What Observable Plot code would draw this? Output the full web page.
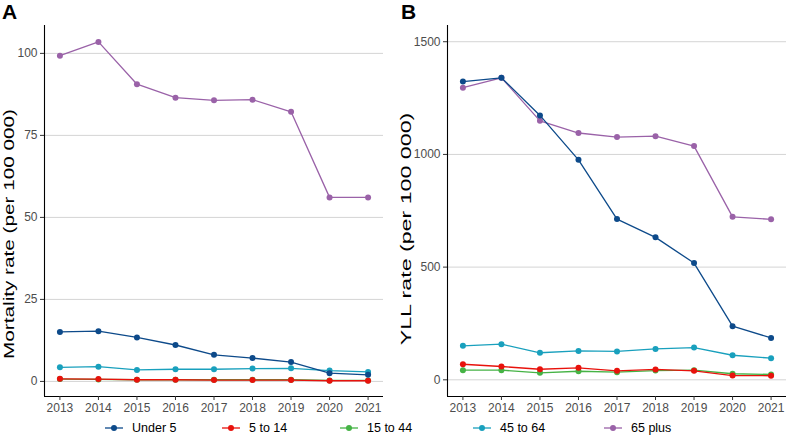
<!DOCTYPE html>
<html><head><meta charset="utf-8">
<script src="https://cdn.jsdelivr.net/npm/d3@7"></script>
<script src="https://cdn.jsdelivr.net/npm/@observablehq/plot@0.6"></script>
<style>
body{margin:0;background:#fff;font-family:"Liberation Sans",Arial,sans-serif;}
#wrap{position:relative;width:790px;height:438px;overflow:hidden;}
.panel{position:absolute;top:0;}
.tag{position:absolute;top:1px;font-weight:bold;font-size:21px;line-height:22px;color:#000;}
.ytitle{position:absolute;font-size:14px;line-height:16px;color:#000;white-space:nowrap;}
.leg{position:absolute;top:421px;font-size:12.5px;line-height:14px;color:#000;display:flex;align-items:center;}
.leg svg{margin-right:9px;}
</style></head>
<body><div id="wrap"></div>
<script>
const years = [2013, 2014, 2015, 2016, 2017, 2018, 2019, 2020, 2021];
const groups = ["Under 5", "5 to 14", "15 to 44", "45 to 64", "65 plus"];
const colors = ["#0d4a8a", "#e8120c", "#45b345", "#19a0bd", "#9a62a8"];

const mortUnder5 = [15.1, 15.3, 13.4, 11.1, 8.1, 7.1, 5.9, 2.5, 2.0];
const mort5to14  = [0.8, 0.7, 0.5, 0.5, 0.4, 0.4, 0.4, 0.2, 0.2];
const mort15to44 = [0.7, 0.6, 0.5, 0.5, 0.5, 0.5, 0.5, 0.3, 0.3];
const mort45to64 = [4.3, 4.5, 3.5, 3.7, 3.7, 3.9, 4.0, 3.3, 2.9];
const mort65plus = [99.3, 103.5, 90.6, 86.5, 85.7, 85.9, 82.2, 56.1, 56.1];

const yllUnder5 = [1323, 1340, 1173, 976, 713, 632, 518, 238, 186];
const yll5to14  = [69, 59, 47, 53, 40, 46, 40, 19, 18];
const yll15to44 = [43, 43, 31, 38, 34, 41, 43, 27, 24];
const yll45to64 = [151, 158, 120, 128, 126, 137, 143, 109, 96];
const yll65plus = [1296, 1340, 1149, 1095, 1077, 1081, 1037, 723, 712];

const mortTicks = [0, 25, 50, 75, 100];
const yllTicks = [0, 500, 1000, 1500];

function toRows(series) {
  const rows = [];
  series.forEach((vals, gi) => vals.forEach((v, i) => rows.push({year: years[i], value: v, group: groups[gi]})));
  return rows;
}

function panel({series, yDomain, ticks, left, width, marginLeft, marginRight}) {
  const rows = toRows(series);
  const order = [4, 3, 2, 1, 0].map(i => groups[i]);
  const xDomain = [2012.6, 2021.4];
  const marks = [
    Plot.ruleY(ticks, {stroke: "#d4d4d4", strokeWidth: 1}),
    Plot.ruleX([xDomain[0]], {stroke: "#000", strokeWidth: 1.1}),
    Plot.ruleY([yDomain[0]], {stroke: "#000", strokeWidth: 1.1}),
    Plot.axisY({ticks, tickFormat: d => String(d), tickSize: 4, tickPadding: 3, label: null, fontSize: 12, color: "#4d4d4d", stroke: "#333"}),
    Plot.axisX({ticks: years, tickFormat: d => String(d), tickSize: 4, tickPadding: 3, label: null, fontSize: 12, color: "#4d4d4d", stroke: "#333"})
  ];
  for (const g of order) {
    const d = rows.filter(r => r.group === g);
    const c = colors[groups.indexOf(g)];
    marks.push(Plot.line(d, {x: "year", y: "value", stroke: c, strokeWidth: 1.3}));
    marks.push(Plot.dot(d, {x: "year", y: "value", fill: c, r: 3}));
  }
  const chart = Plot.plot({
    width, height: 418,
    marginLeft, marginRight, marginTop: 25, marginBottom: 22,
    x: {domain: xDomain, axis: null},
    y: {domain: yDomain, axis: null},
    style: {fontFamily: "'Liberation Sans', Arial, sans-serif", background: "transparent"},
    marks
  });
  chart.classList.add("panel");
  chart.style.left = left + "px";
  return chart;
}

const wrap = document.getElementById("wrap");
wrap.appendChild(panel({
  series: [mortUnder5, mort5to14, mort15to44, mort45to64, mort65plus],
  yDomain: [-4.6, 108.5], ticks: mortTicks, left: 0, width: 395, marginLeft: 44, marginRight: 12
}));
wrap.appendChild(panel({
  series: [yllUnder5, yll5to14, yll15to44, yll45to64, yll65plus],
  yDomain: [-74, 1572], ticks: yllTicks, left: 400, width: 390, marginLeft: 47, marginRight: 4
}));

function addDiv(cls, text, css) {
  const d = document.createElement("div");
  d.className = cls; d.textContent = text; Object.assign(d.style, css); wrap.appendChild(d); return d;
}
addDiv("tag", "A", {left: "2px"});
addDiv("tag", "B", {left: "401px"});
const t1 = addDiv("ytitle", "Mortality rate (per 100 000)", {});
const t2 = addDiv("ytitle", "YLL rate (per 100 000)", {});
function placeTitle(el, cx, cy, len) {
  const w = el.offsetWidth, h = el.offsetHeight;
  const s = len / w;
  el.style.left = (cx - w / 2) + "px"; el.style.top = (cy - h / 2) + "px";
  el.style.transformOrigin = "center";
  el.style.transform = `rotate(-90deg) scaleX(${s})`;
}
placeTitle(t1, 9, 234, 250);
placeTitle(t2, 406, 229, 232);

const legX = [105, 222, 340, 473, 604];
groups.forEach((g, i) => {
  const d = document.createElement("div");
  d.className = "leg"; d.style.left = legX[i] + "px";
  d.innerHTML = `<svg width="18" height="14"><line x1="0" y1="7" x2="18" y2="7" stroke="${colors[i]}" stroke-width="1.3"/><circle cx="9" cy="7" r="3" fill="${colors[i]}"/></svg><span>${g}</span>`;
  wrap.appendChild(d);
});
</script></body></html>
